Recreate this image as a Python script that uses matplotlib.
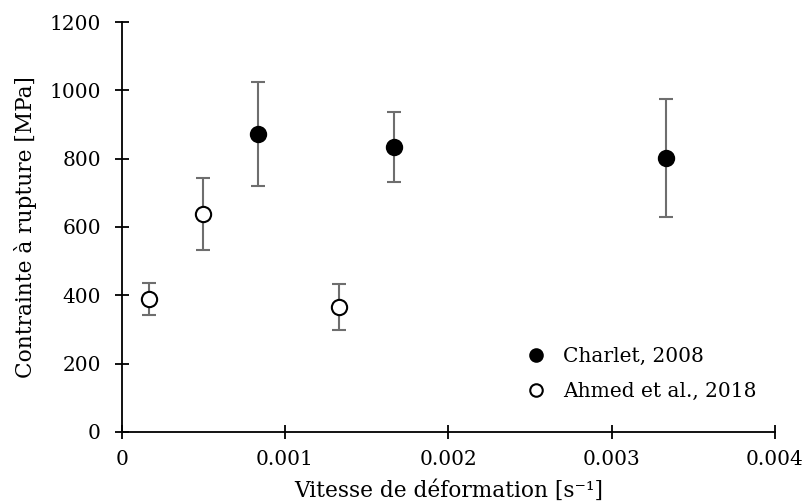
import matplotlib
matplotlib.use("Agg")
import matplotlib.pyplot as plt
from matplotlib.lines import Line2D

plt.rcParams['font.family'] = ['DejaVu Serif']
plt.rcParams['mathtext.default'] = 'regular'

charlet_x = [0.000833, 0.001667, 0.003333]
charlet_y = [872, 835, 802]
charlet_err = [153, 103, 174]

ahmed_x = [0.000167, 0.0005, 0.001333]
ahmed_y = [390, 638, 366]
ahmed_err = [47, 104, 67]

xticks = [0, 0.001, 0.002, 0.003, 0.004]
xticklabels = ["0", "0.001", "0.002", "0.003", "0.004"]
yticks = [0, 200, 400, 600, 800, 1000, 1200]

FS = 14.5
LFS = 15.6

fig = plt.figure(figsize=(8.06, 5.04), dpi=100)
ax = fig.add_axes([0.151, 0.143, 0.8105, 0.8133])

errc = '#6e6e6e'
ax.errorbar(charlet_x, charlet_y, yerr=charlet_err, fmt='o', color='black',
            ms=11, mfc='black', mec='black', mew=1.5,
            ecolor=errc, elinewidth=1.5, capsize=4.8, capthick=1.5, zorder=3)
ax.errorbar(ahmed_x, ahmed_y, yerr=ahmed_err, fmt='o', color='black',
            ms=11, mfc='white', mec='black', mew=1.5,
            ecolor=errc, elinewidth=1.5, capsize=4.8, capthick=1.5, zorder=3)

ax.set_xlim(0, 0.004)
ax.set_ylim(0, 1200)
ax.set_xticks(xticks)
ax.set_xticklabels(xticklabels)
ax.set_yticks(yticks)

for s in ['top', 'right']:
    ax.spines[s].set_visible(False)
for s in ['left', 'bottom']:
    ax.spines[s].set_linewidth(1.3)

ax.tick_params(axis='both', direction='inout', length=10, width=1.3,
               labelsize=FS, colors='black')
ax.tick_params(axis='x', pad=8)
ax.tick_params(axis='y', pad=10)

ax.set_xlabel('Vitesse de déformation [s⁻¹]', fontsize=LFS, labelpad=7.5)
ax.set_ylabel('Contrainte à rupture [MPa]', fontsize=LFS, labelpad=9)

handles = [
    Line2D([], [], marker='o', ls='none', ms=9, mfc='black', mec='black', mew=1.5),
    Line2D([], [], marker='o', ls='none', ms=9, mfc='white', mec='black', mew=1.5),
]
ax.legend(handles, ['Charlet, 2008', 'Ahmed et al., 2018'], loc='lower left',
          bbox_to_anchor=(0.619, 0.075), frameon=False, fontsize=FS,
          borderpad=0, borderaxespad=0, handlelength=1.0,
          handletextpad=0.85, labelspacing=0.8)

fig.savefig('out.png', dpi=100)
